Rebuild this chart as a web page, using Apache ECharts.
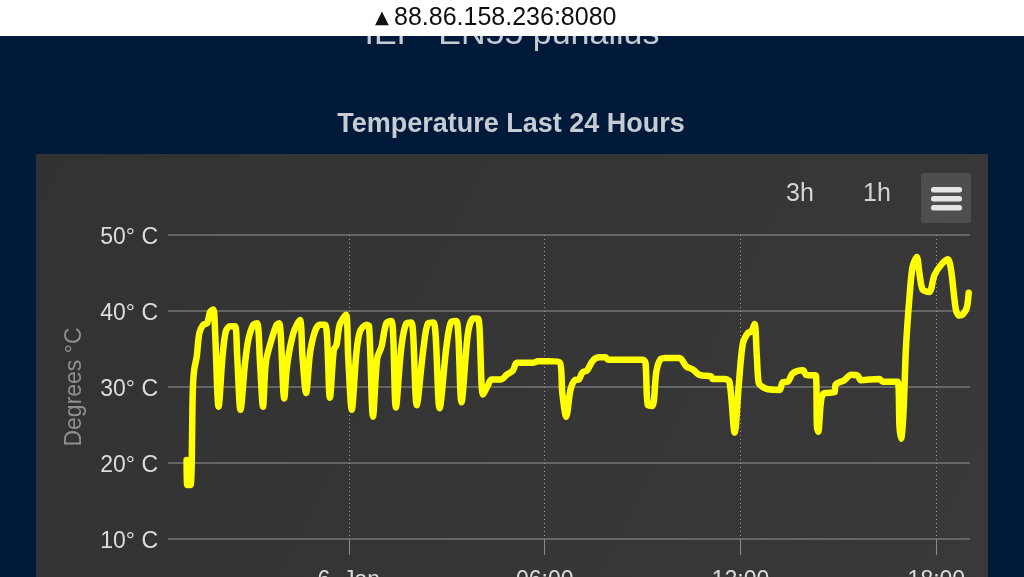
<!DOCTYPE html>
<html><head><meta charset="utf-8">
<style>html,body{margin:0;padding:0;background:#011a39;overflow:hidden;width:1024px;height:577px}#c{width:1024px;height:620px}</style>
<script src="https://cdn.jsdelivr.net/npm/echarts@6/dist/echarts.min.js"></script>
</head><body><div id="c"></div>
<script>
var hours=[-4.97,-4.95,-4.85,-4.78,-4.74,-4.66,-4.58,-4.46,-4.34,-4.25,-4.15,-4.10,-3.99,-3.87,-3.77,-3.64,-3.49,-3.42,-3.32,-3.18,-3.08,-2.93,-2.81,-2.72,-2.63,-2.54,-2.37,-2.21,-2.13,-1.98,-1.89,-1.70,-1.50,-1.42,-1.31,-1.19,-1.04,-0.89,-0.72,-0.58,-0.46,-0.38,-0.28,-0.09,-0.02,0.09,0.23,0.34,0.54,0.62,0.74,0.87,1.00,1.15,1.31,1.44,1.61,1.77,1.92,2.08,2.28,2.43,2.60,2.78,2.99,3.14,3.30,3.45,3.65,3.81,3.96,4.11,4.27,4.37,4.67,4.83,5.03,5.15,5.64,5.80,6.10,6.46,6.54,6.66,6.79,6.92,7.05,7.15,7.30,7.48,7.68,7.87,7.94,9.01,9.09,9.16,9.30,9.42,9.54,9.72,10.13,10.34,10.54,10.74,11.10,11.15,11.51,11.66,11.82,11.95,12.07,12.22,12.33,12.43,12.50,12.56,12.68,12.84,13.19,13.29,13.45,13.60,13.91,14.01,14.31,14.34,14.38,14.47,14.57,14.88,14.91,15.18,15.39,15.59,15.69,16.25,16.36,16.81,16.87,16.92,16.99,17.07,17.17,17.27,17.40,17.48,17.58,17.78,17.94,18.14,18.35,18.45,18.60,18.70,18.80,18.93,18.99];
var temps=[20.4,17.1,17.1,29.6,32.2,34.0,37.1,38.2,38.4,39.9,40.2,37.5,27.4,34.0,37.3,38.0,38.0,34.0,27.0,33.1,36.2,38.2,38.4,33.1,27.4,33.3,36.2,38.2,38.4,28.5,32.9,37.1,38.8,34.0,29.2,34.4,37.3,38.2,38.2,28.6,34.9,35.5,38.2,39.5,34.0,27.0,34.4,37.3,38.2,38.0,26.1,33.8,35.3,38.4,38.7,27.3,35.3,38.4,38.5,27.6,34.9,38.4,38.5,27.2,35.3,38.6,38.7,28.0,37.1,39.0,39.0,29.0,30.3,31.0,31.0,31.6,32.2,33.2,33.2,33.4,33.4,33.25,29.2,26.1,29.6,30.9,31.0,31.9,32.2,33.5,33.9,33.9,33.6,33.6,33.1,27.6,27.5,32.0,33.6,33.8,33.8,32.7,32.3,31.6,31.4,31.05,31.05,30.7,24.0,30.5,35.7,37.1,37.3,38.3,34.0,30.5,30.0,29.7,29.6,30.6,30.7,31.8,32.2,31.6,31.5,24.8,24.1,28.3,29.2,29.3,30.3,30.9,31.6,31.5,30.9,31.05,30.7,30.7,24.8,23.2,26.5,35.3,41.5,45.8,47.1,45.0,42.8,42.5,44.7,46.05,46.8,45.4,40.1,39.4,39.5,40.4,42.4];
var tickHours=[0,6,12,18];
var tickLabels=["6. Jan","06:00","12:00","18:00"];
var seriesData=hours.map(function(h,i){return [h,temps[i]];});
var font='"Liberation Sans",Arial,sans-serif';
var chart=echarts.init(document.getElementById('c'),null,{renderer:'canvas'});
chart.setOption({
  animation:false,
  backgroundColor:'#011a39',
  grid:{left:168,right:54,top:235,height:304,containLabel:false},
  xAxis:{type:'value',min:-5.54,max:19.03,
    axisLine:{show:false},
    axisTick:{show:true,length:16,customValues:tickHours,lineStyle:{color:'#8a8a8a',width:1}},
    axisLabel:{show:true,customValues:tickHours,margin:30,fontFamily:font,fontSize:23,color:'#dcdcdc',
      formatter:function(v){var i=tickHours.indexOf(v);return i>=0?tickLabels[i]:'';}},
    splitLine:{show:true,lineStyle:{color:'#a0a0a0',type:[1,3],width:1}}
  },
  yAxis:{type:'value',min:10,max:50,interval:10,
    name:'Degrees °C',nameLocation:'middle',nameGap:82,nameRotate:90,
    nameTextStyle:{fontFamily:font,fontSize:23,color:'#8f8f8f'},
    axisLine:{show:false},axisTick:{show:false},
    axisLabel:{margin:10,formatter:function(v){return '{a|'+v+'° C}';},
      rich:{a:{padding:[5,0,0,0],fontFamily:font,fontSize:23,color:'#dcdcdc'}}},
    splitLine:{show:true,lineStyle:{color:'#747474',width:1.5}}
  },
  series:[{type:'line',data:seriesData,showSymbol:false,smooth:0.3,
    lineStyle:{color:'#ffff00',width:6.5,cap:'round',join:'round'},z:5}],
  graphic:[
    {type:'rect',z:-10,shape:{x:36,y:154,width:952,height:470},style:{fill:new echarts.graphic.LinearGradient(0,0,1,1,[{offset:0,color:'#323232'},{offset:1,color:'#393939'}])}},
    {type:'text',z:-5,x:511,y:125,style:{text:'Temperature Last 24 Hours',font:'bold 27px '+font,fill:'#c6cbd4',textAlign:'center',textVerticalAlign:'middle'}},
    {type:'text',z:-5,x:512,y:35,style:{text:'IEP  EN55 puhallus',font:'34px '+font,fill:'#c6cbd4',textAlign:'center',textVerticalAlign:'middle'}},
    {type:'rect',z:100,shape:{x:0,y:0,width:1024,height:36},style:{fill:'#ffffff'}},
    {type:'text',z:101,x:394,y:18,style:{text:'88.86.158.236:8080',font:'25px '+font,fill:'#111111',textAlign:'left',textVerticalAlign:'middle'}},
    {type:'text',z:101,x:382,y:18,style:{text:'▲',font:'18px "DejaVu Sans"',fill:'#111111',textAlign:'center',textVerticalAlign:'middle'}},
    {type:'text',z:20,x:800,y:194,style:{text:'3h',font:'25px '+font,fill:'#d4d4d4',textAlign:'center',textVerticalAlign:'middle'}},
    {type:'text',z:20,x:877,y:194,style:{text:'1h',font:'25px '+font,fill:'#d4d4d4',textAlign:'center',textVerticalAlign:'middle'}},
    {type:'rect',z:20,shape:{x:921,y:173,width:50,height:50,r:3},style:{fill:'#4e4e4e'}},
    {type:'rect',z:21,shape:{x:931,y:187,width:31,height:5.5,r:2.5},style:{fill:'#e4e4e4'}},
    {type:'rect',z:21,shape:{x:931,y:196,width:31,height:5.5,r:2.5},style:{fill:'#e4e4e4'}},
    {type:'rect',z:21,shape:{x:931,y:205,width:31,height:5.5,r:2.5},style:{fill:'#e4e4e4'}}
  ]
});
</script></body></html>
